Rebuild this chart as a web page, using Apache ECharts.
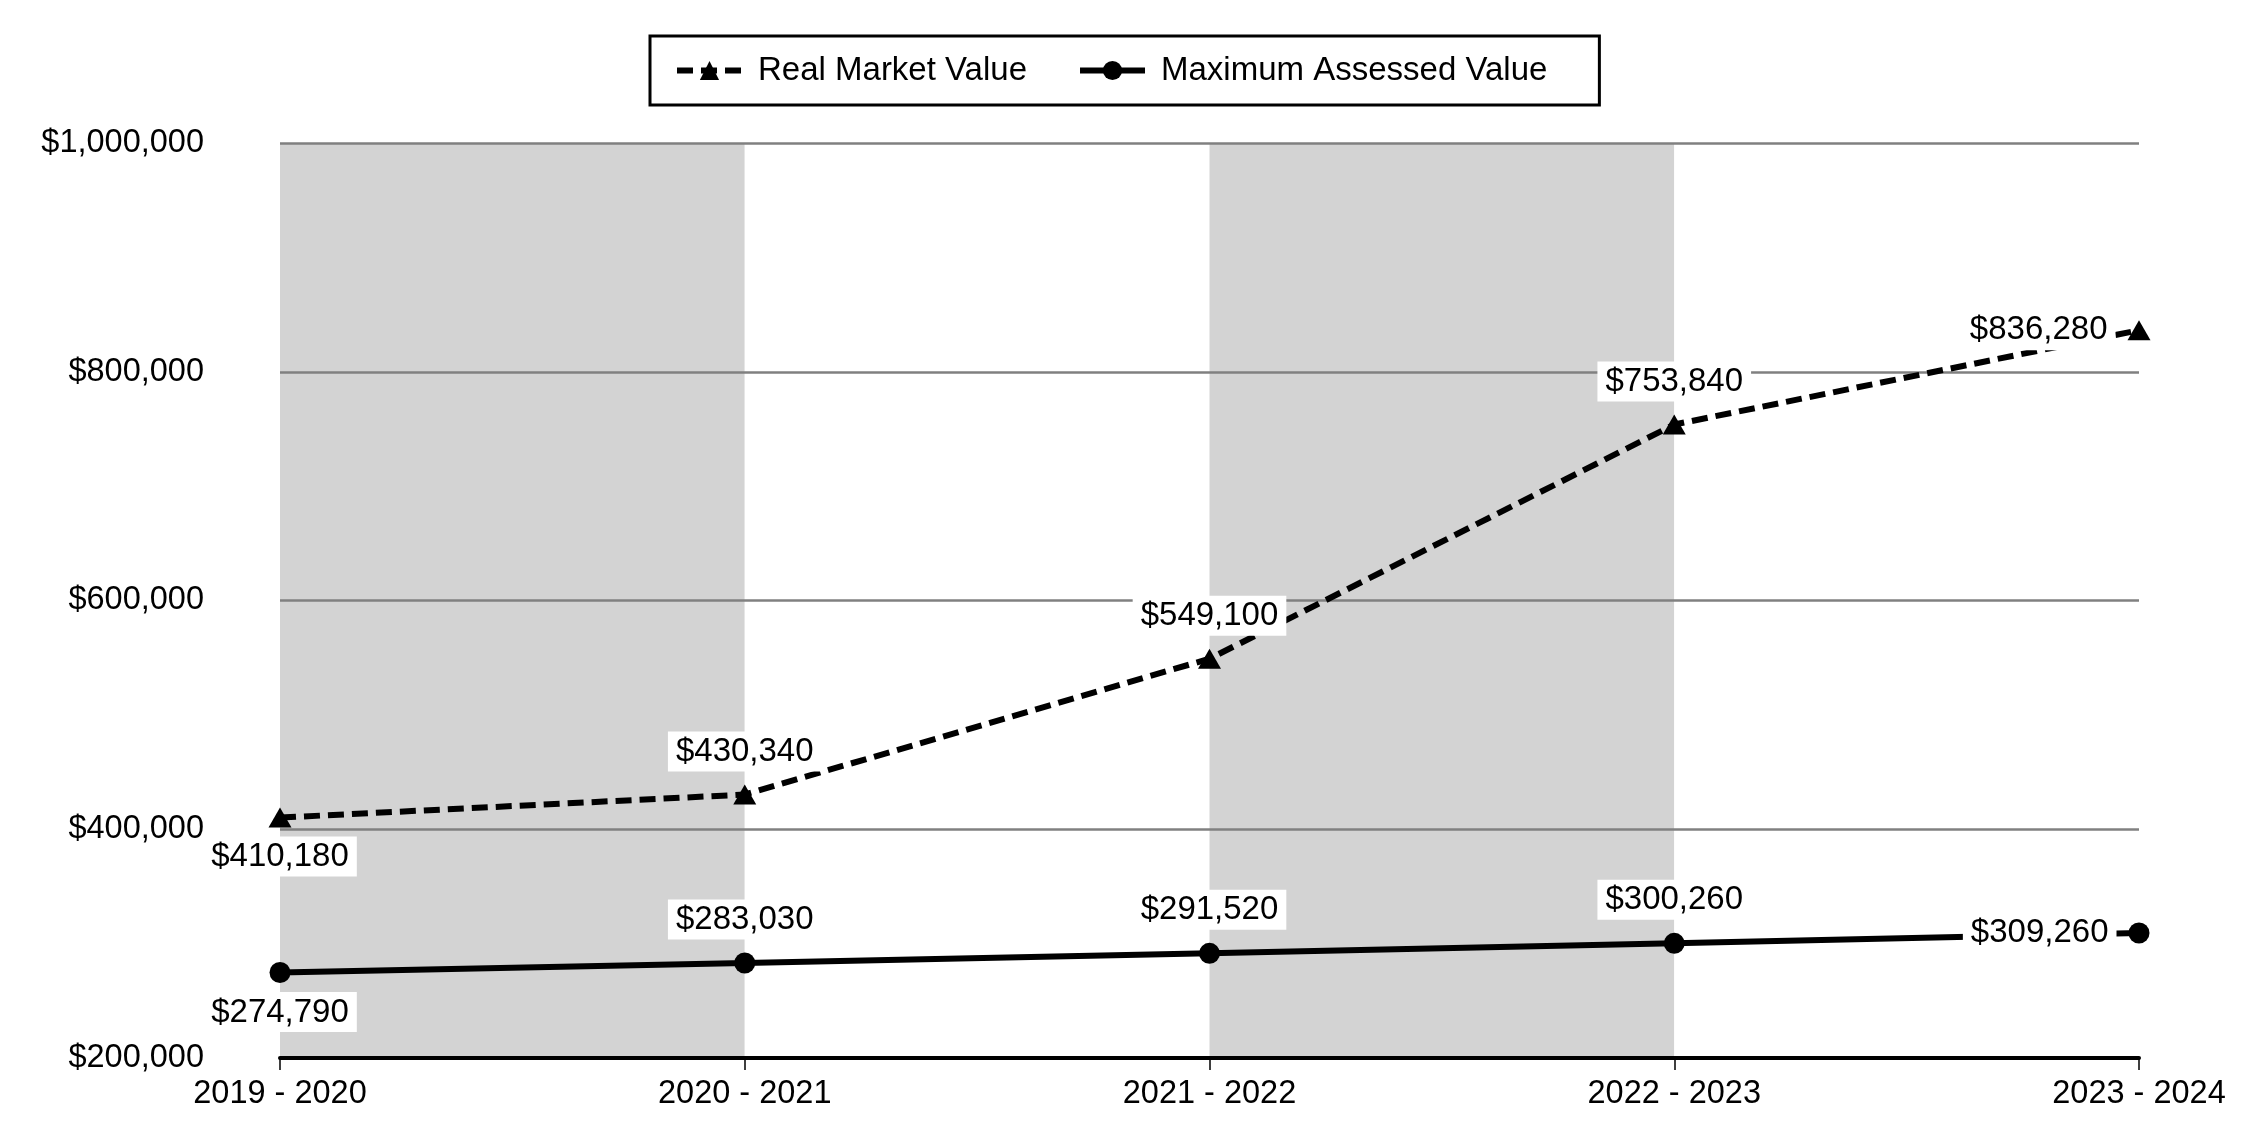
<!DOCTYPE html>
<html>
<head>
<meta charset="utf-8">
<script src="https://cdn.jsdelivr.net/npm/echarts@6/dist/echarts.min.js"></script>
<style>
html,body{margin:0;padding:0;background:#fff;}
#chart{width:2250px;height:1140px;}
</style>
</head>
<body>
<div id="chart"></div>
<script>
const categories = ['2019 - 2020', '2020 - 2021', '2021 - 2022', '2022 - 2023', '2023 - 2024'];
const realMarketValue = [410180, 430340, 549100, 753840, 836280];
const maxAssessedValue = [274790, 283030, 291520, 300260, 309260];
const yTicks = [200000, 400000, 600000, 800000, 1000000];

const FONT = '"Liberation Sans", Arial, sans-serif';
const fmt = v => '$' + Number(v).toLocaleString('en-US');

const labelBase = {
  show: true,
  color: '#000',
  fontFamily: FONT,
  fontSize: 33,
  backgroundColor: '#fff',
  padding: [4, 8, 3, 8],
  formatter: p => fmt(p.value)
};

function buildData(values, positions, distances) {
  return values.map((v, i) => ({
    value: v,
    label: Object.assign({}, labelBase, { position: positions[i], distance: distances[i] })
  }));
}

const chart = echarts.init(document.getElementById('chart'), null, { renderer: 'canvas' });

chart.setOption({
  backgroundColor: '#fff',
  animation: false,
  textStyle: { fontFamily: FONT },
  legend: {
    top: 36,
    left: 650,
    borderColor: '#000',
    borderWidth: 3,
    padding: [18, 52, 18, 24],
    itemGap: 50,
    itemWidth: 65,
    itemHeight: 24,
    lineStyle: { width: 6 },
    textStyle: { fontSize: 33, color: '#000', fontFamily: FONT, padding: [0, 0, 0, 11] },
    data: ['Real Market Value', 'Maximum Assessed Value']
  },
  grid: { left: 280, right: 111, top: 143, bottom: 82, containLabel: false },
  xAxis: {
    type: 'category',
    data: categories,
    boundaryGap: false,
    z: 0,
    axisLine: { show: true, lineStyle: { color: '#000', width: 4 } },
    axisTick: { show: true, length: 12, lineStyle: { color: '#000', width: 1.5 } },
    axisLabel: { color: '#000', fontSize: 32.5, fontFamily: FONT, margin: 20 },
    splitLine: { show: false },
    splitArea: { show: true, areaStyle: { color: ['#d3d3d3', '#ffffff'] } }
  },
  yAxis: {
    type: 'value',
    min: yTicks[0],
    max: yTicks[yTicks.length - 1],
    interval: yTicks[1] - yTicks[0],
    z: 1,
    axisLine: { show: false },
    axisTick: { show: false },
    axisLabel: { color: '#000', fontSize: 32.5, fontFamily: FONT, margin: 76, formatter: v => fmt(v) },
    splitLine: { show: true, showMinLine: false, lineStyle: { color: '#808080', width: 2.5 } }
  },
  series: [
    {
      name: 'Real Market Value',
      type: 'line',
      symbol: 'triangle',
      symbolSize: [23, 20],
      z: 3,
      itemStyle: { color: '#000' },
      lineStyle: { color: '#000', width: 6, type: [16, 8] },
      data: buildData(realMarketValue, ['bottom', 'top', 'top', 'top', 'left'], [9, 13, 13, 13, 12])
    },
    {
      name: 'Maximum Assessed Value',
      type: 'line',
      symbol: 'circle',
      symbolSize: 21,
      z: 3,
      itemStyle: { color: '#000' },
      lineStyle: { color: '#000', width: 6, type: 'solid' },
      data: buildData(maxAssessedValue, ['bottom', 'top', 'top', 'top', 'left'], [9, 13, 13, 13, 12])
    }
  ]
});
</script>
</body>
</html>
